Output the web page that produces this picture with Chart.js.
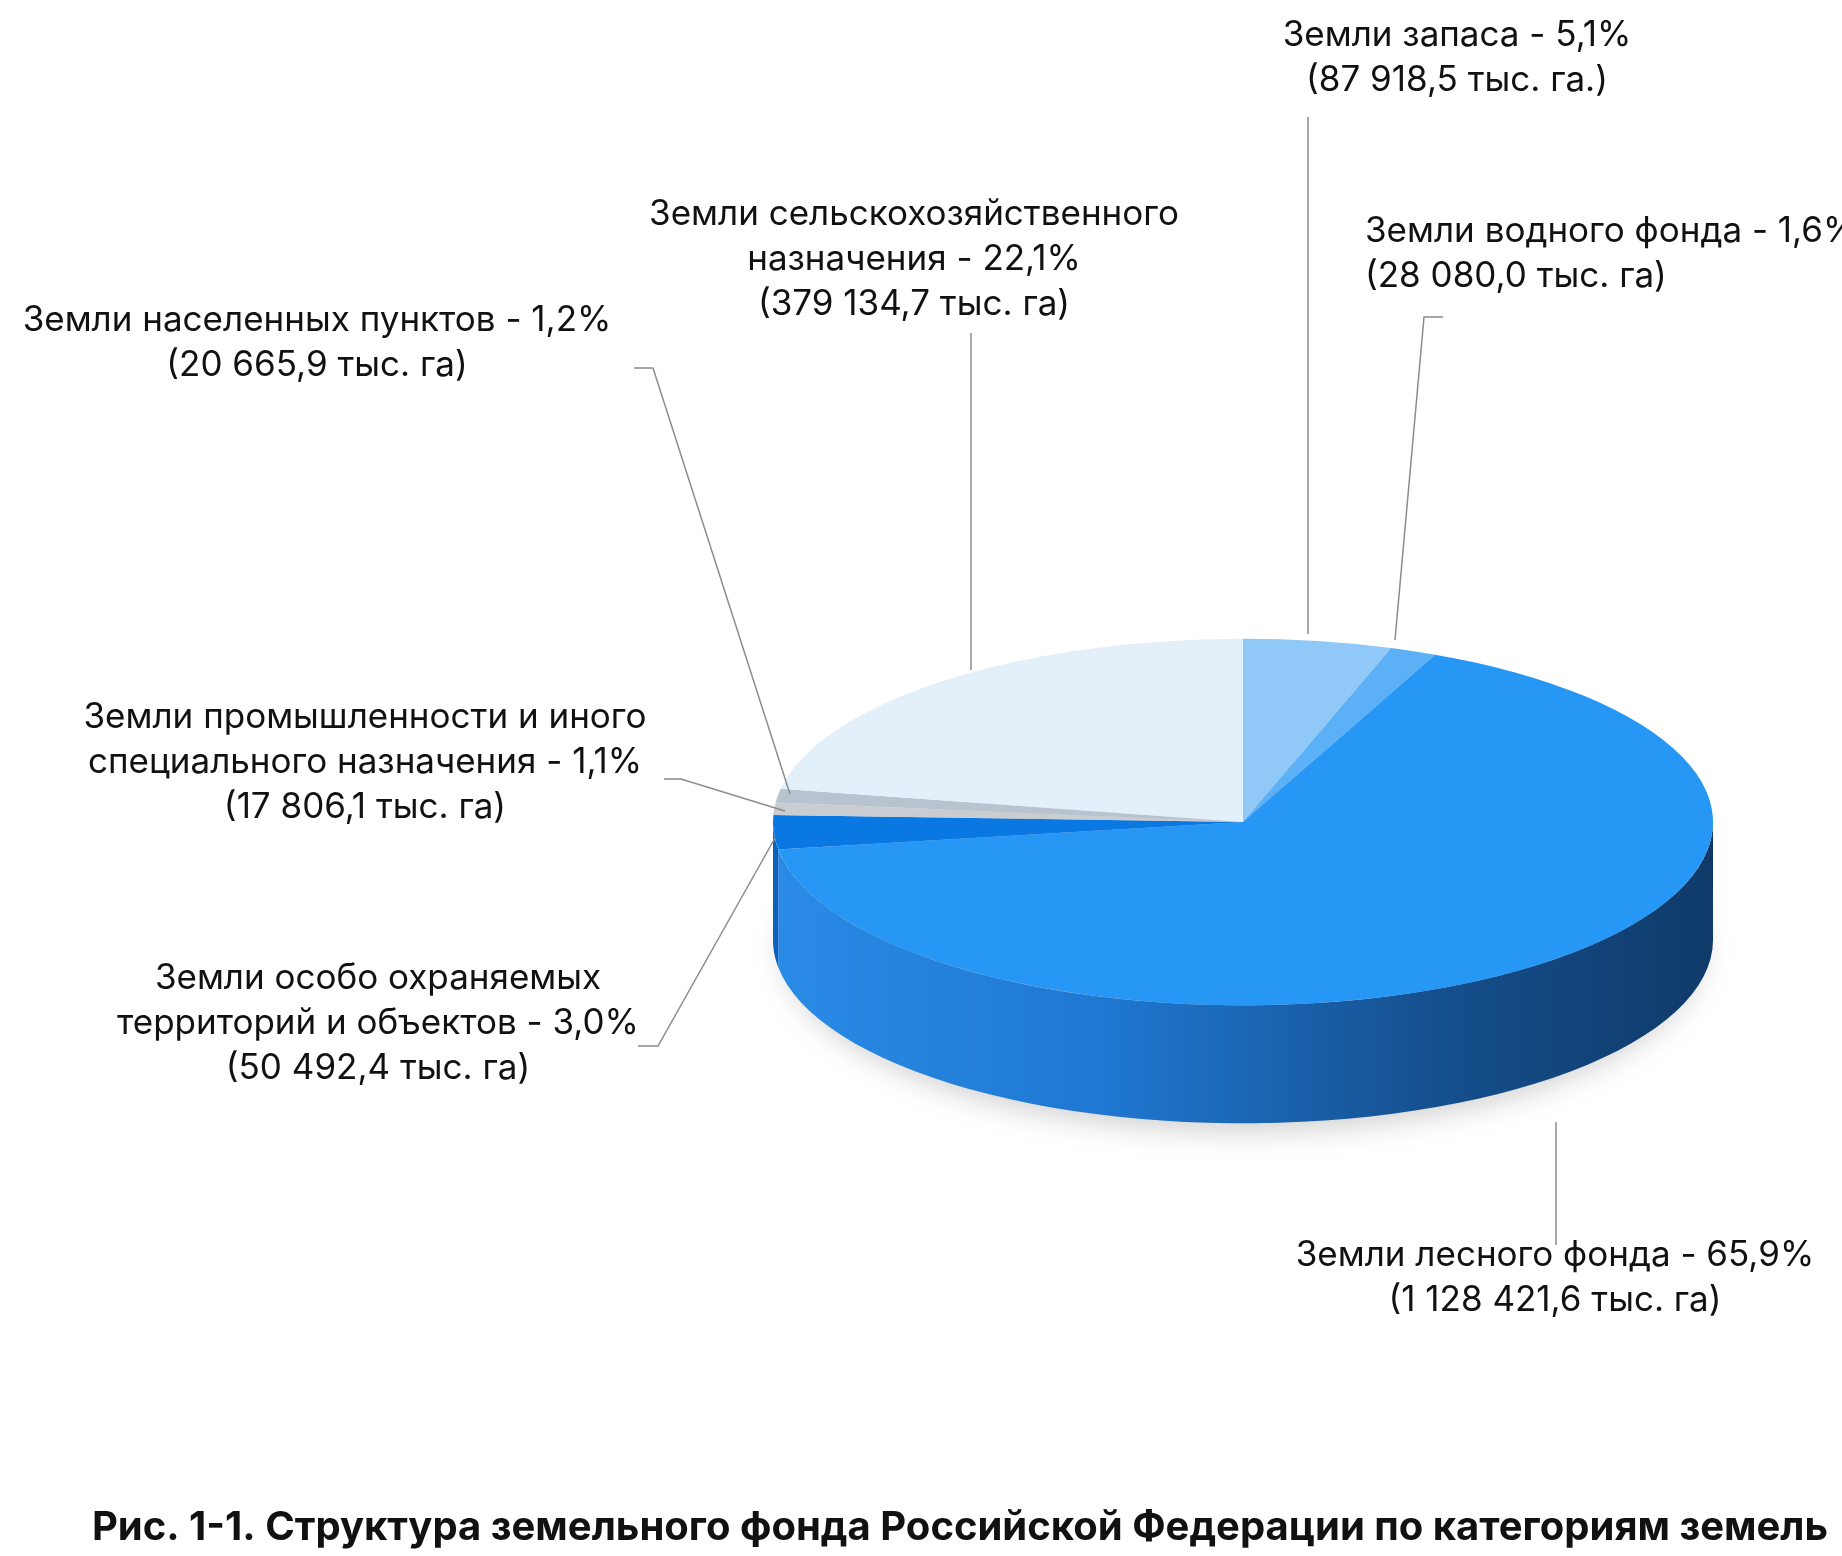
<!DOCTYPE html>
<html><head><meta charset="utf-8">
<script src="https://cdn.jsdelivr.net/npm/chart.js@4/dist/chart.umd.min.js"></script>
<style>html,body{margin:0;padding:0;background:#fff}canvas{display:block}</style>
</head><body>
<canvas id="c" width="1842" height="1556"></canvas>
<script>
const categories = ["Земли запаса","Земли водного фонда","Земли лесного фонда","Земли особо охраняемых территорий и объектов","Земли промышленности и иного специального назначения","Земли населенных пунктов","Земли сельскохозяйственного назначения"];
const percents = [5.1,1.6,65.9,3.0,1.1,1.2,22.1];
const areas = ["87 918,5","28 080,0","1 128 421,6","50 492,4","17 806,1","20 665,9","379 134,7"];
const colors = ["#90c8f8","#5cb0f6","#2697f4","#0a78e2","#c9ccd0","#b7c4d0","#e3eff9"];
const labelLines = [
  ["Земли запаса - 5,1%","(87 918,5 тыс. га.)"],
  ["Земли водного фонда - 1,6%","(28 080,0 тыс. га)"],
  ["Земли лесного фонда - 65,9%","(1 128 421,6 тыс. га)"],
  ["Земли особо охраняемых","территорий и объектов - 3,0%","(50 492,4 тыс. га)"],
  ["Земли промышленности и иного","специального назначения - 1,1%","(17 806,1 тыс. га)"],
  ["Земли населенных пунктов - 1,2%","(20 665,9 тыс. га)"],
  ["Земли сельскохозяйственного","назначения - 22,1%","(379 134,7 тыс. га)"]
];
const title = "Рис. 1-1. Структура земельного фонда Российской Федерации по категориям земель";
// layout
const SQ = 0.39, DEPTH = 118;
const labelPos = [[1457,35,'center'],[1365,231,'left'],[1555,1255,'center'],[378,978,'center'],[365,717,'center'],[317,320,'center'],[914,214,'center']];
const leaders = [
  [[1308,117],[1308,634]],
  [[1443,317],[1424,317],[1395,640]],
  [[1556,1122],[1556,1245]],
  [[638,1046],[658,1046],[775,838]],
  [[664,779],[681,779],[785,811]],
  [[634,368],[653,368],[790,794]],
  [[971,333],[971,670]]
];
const pie3d = {
  id:'pie3d',
  beforeDatasetsDraw(chart){
    const ctx=chart.ctx, arcs=chart.getDatasetMeta(0).data;
    const cx=arcs[0].x, cy=arcs[0].y, r=arcs[0].outerRadius, ry=r*SQ;
    // shadow
    ctx.save();ctx.filter='blur(14px)';ctx.fillStyle='rgba(0,0,0,0.18)';
    ctx.beginPath();ctx.ellipse(cx,cy+DEPTH+8,r*0.98,ry,0,0,Math.PI*2);ctx.fill();ctx.restore();
    const g=ctx.createLinearGradient(cx-r,0,cx+r,0);
    g.addColorStop(0,'#2a8be6');g.addColorStop(0.35,'#1f78d2');g.addColorStop(0.7,'#15508f');g.addColorStop(1,'#0f3a68');
    arcs.forEach((a,i)=>{
      let s=a.startAngle,e=a.endAngle;
      const norm=x=>{while(x<-Math.PI/2)x+=2*Math.PI;return x;};
      const a0=Math.max(s,0),a1=Math.min(e,Math.PI);
      if(a1<=a0)return;
      ctx.beginPath();
      for(let t=a0;t<=a1+1e-9;t+=(a1-a0)/60)ctx.lineTo(cx+r*Math.cos(t),cy+ry*Math.sin(t));
      for(let t=a1;t>=a0-1e-9;t-=(a1-a0)/60)ctx.lineTo(cx+r*Math.cos(t),cy+ry*Math.sin(t)+DEPTH);
      ctx.closePath();
      ctx.fillStyle=i===2?g:'#0a62bb';ctx.fill();
    });
    ctx.save();ctx.translate(cx,cy);ctx.scale(1,SQ);ctx.translate(-cx,-cy);
  },
  afterDatasetsDraw(chart){
    const ctx=chart.ctx;ctx.restore();
    ctx.save();
    ctx.strokeStyle='#8c8c8c';ctx.lineWidth=1.5;
    leaders.forEach(pts=>{ctx.beginPath();pts.forEach((p,j)=>j?ctx.lineTo(p[0],p[1]):ctx.moveTo(p[0],p[1]));ctx.stroke();});
    ctx.fillStyle='#111';ctx.font='35px Inter';ctx.textBaseline='middle';
    labelLines.forEach((ls,i)=>{const [x,y,al]=labelPos[i];ctx.textAlign=al;
      ls.forEach((l,k)=>ctx.fillText(l,x,y+k*45));});
    ctx.font='bold 40px Inter';ctx.textAlign='center';ctx.fillText(title,960,1528);
    ctx.restore();
  }
};
new Chart(document.getElementById('c'),{
  type:'pie',
  data:{labels:categories,datasets:[{data:percents,backgroundColor:colors,borderWidth:0}]},
  options:{responsive:false,devicePixelRatio:1,animation:false,
    layout:{padding:{left:773,right:129,top:352,bottom:264}},
    plugins:{legend:{display:false},tooltip:{enabled:false}}},
  plugins:[pie3d]
});
</script></body></html>
